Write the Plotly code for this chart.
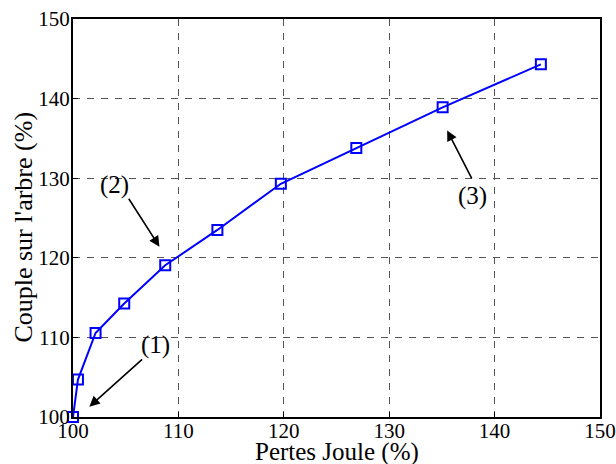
import plotly.graph_objects as go

pertes_joule = [100.0, 100.47, 102.14, 104.86, 108.75, 113.7, 119.72, 126.88, 135.07, 144.39]
couple_arbre = [100.0, 104.7, 110.55, 114.25, 119.06, 123.5, 129.3, 133.8, 138.9, 144.3]

x_ticks = [100, 110, 120, 130, 140, 150]
y_ticks = [100, 110, 120, 130, 140, 150]

# annotation labels: (label, text x, text y, arrow tail x, tail y, head x, head y)
labels = ["(1)", "(2)", "(3)"]
label_x = [107.8, 103.9, 137.9]
label_y = [109.0, 129.1, 127.8]
tail_x = [106.7, 105.2, 137.9]
tail_y = [107.4, 127.6, 129.8]
head_x = [101.55, 108.2, 135.5]
head_y = [101.3, 121.4, 136.0]

x_title = "Pertes Joule (%)"
y_title = "Couple sur l'arbre (%)"

font_family = "Liberation Serif, Times New Roman, serif"

fig = go.Figure()
fig.add_trace(go.Scatter(
    x=pertes_joule, y=couple_arbre, mode="lines+markers",
    line=dict(color="#0000ff", width=2),
    marker=dict(symbol="square-open", size=10, color="#0000ff", line=dict(width=2)),
    showlegend=False, cliponaxis=False,
))

annotations = []
for t, lx, ly, tx, ty, hx, hy in zip(labels, label_x, label_y, tail_x, tail_y, head_x, head_y):
    annotations.append(dict(x=lx, y=ly, xref="x", yref="y", text=t, showarrow=False,
                            font=dict(family=font_family, size=25, color="black")))
    annotations.append(dict(x=hx, y=hy, ax=tx, ay=ty, xref="x", yref="y", axref="x", ayref="y",
                            text="", showarrow=True, arrowhead=2, arrowsize=1.3, arrowwidth=1.6,
                            arrowcolor="black", standoff=0, startstandoff=0))

# axis titles placed as annotations for exact positioning
annotations.append(dict(x=0.5, y=-0.0887, xref="paper", yref="paper", text=x_title, showarrow=False,
                        xanchor="center", yanchor="middle",
                        font=dict(family=font_family, size=25, color="black")))
annotations.append(dict(x=-0.0943, y=0.4766, xref="paper", yref="paper", text=y_title, showarrow=False,
                        xanchor="center", yanchor="middle", textangle=-90,
                        font=dict(family=font_family, size=26, color="black")))

axis_common = dict(
    showgrid=True, gridcolor="#555555", griddash="7px,7px", gridwidth=1,
    showline=True, linecolor="black", linewidth=2, mirror=True,
    ticks="inside", ticklen=5, tickcolor="black", zeroline=False, automargin=False,
    ticklabeloverflow="allow",
    tickfont=dict(family=font_family, size=21, color="black"),
)

fig.update_layout(
    width=616, height=464,
    margin=dict(l=73, r=16, t=19, b=47),
    paper_bgcolor="white", plot_bgcolor="white",
    xaxis=dict(range=[100, 150], tickvals=x_ticks, ticktext=[str(v) for v in x_ticks],
               ticklabelstandoff=-6, **axis_common),
    yaxis=dict(range=[100, 150], tickvals=y_ticks, ticktext=[str(v) for v in y_ticks],
               ticklabelstandoff=-3, **axis_common),
    annotations=annotations,
)

fig.write_html("out.html", config={"displayModeBar": False},
               post_script="document.body.style.margin='0';document.body.style.overflow='hidden';")
